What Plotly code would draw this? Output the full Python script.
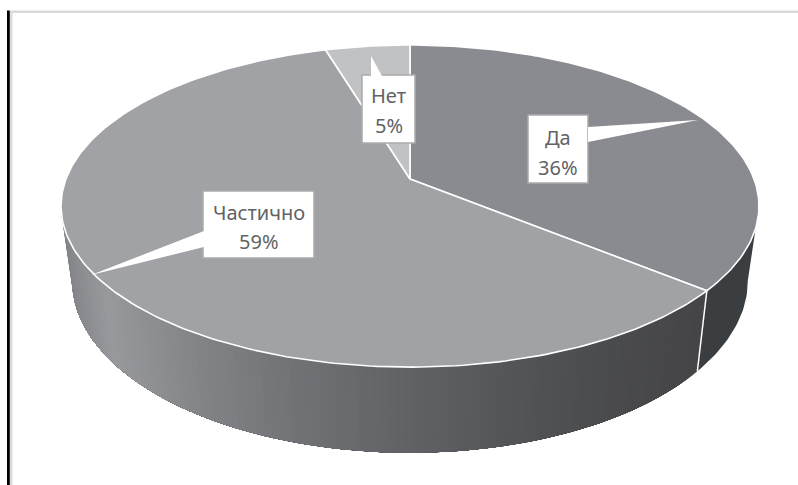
import math
import plotly.graph_objects as go

# Data (slice shares, clockwise from 12 o'clock)
categories = ["Да", "Частично", "Нет"]
shares = [36.0, 59.4, 4.6]
top_colors = ["#8a8b90", "#a0a2a6", "#c1c2c4"]

# Perspective projection of the disc
K = 0.168
TOP = dict(cx=410, cy=179, a=344, b=156.5)
BOTTOM = dict(cx=410, cy=252, a=333, b=167)


def project(turn, disc):
    X, Y = math.sin(turn), math.cos(turn)
    w = 1 + K * Y
    return disc["cx"] + disc["a"] * X / w, disc["cy"] - disc["b"] * Y / w


def arc(t0, t1, disc, step=math.radians(1)):
    n = max(2, int(abs(t1 - t0) / step) + 1)
    pts = [project(t0 + (t1 - t0) * i / n, disc) for i in range(n + 1)]
    return [p[0] for p in pts], [p[1] for p in pts]


STOPS = [(60, (0x82, 0x84, 0x88)), (105, (0x98, 0x99, 0x9d)), (200, (0x82, 0x83, 0x87)),
         (300, (0x70, 0x71, 0x75)), (400, (0x62, 0x63, 0x66)), (500, (0x55, 0x56, 0x59)),
         (600, (0x4b, 0x4c, 0x4e)), (700, (0x45, 0x45, 0x47))]


def side_color(x):
    for (x0, c0), (x1, c1) in zip(STOPS, STOPS[1:]):
        if x <= x1:
            f = max(0, (x - x0) / (x1 - x0))
            c = [round(a + (b - a) * f) for a, b in zip(c0, c1)]
            return "rgb(%d,%d,%d)" % tuple(c)
    return "rgb(69,69,71)"


fig = go.Figure()


def poly(xs, ys, fill, line=None, width=0):
    fig.add_trace(go.Scatter(
        x=xs, y=ys, mode="lines", fill="toself", fillcolor=fill,
        line=dict(color=line or fill, width=width if line else 0),
        hoverinfo="skip", showlegend=False))


# Slice boundaries as turning angles
edges = [0.0]
for s in shares:
    edges.append(edges[-1] + s / sum(shares) * 2 * math.pi)

right_tangent = math.acos(-K)
left_tangent = 2 * math.pi - right_tangent


def side_quad(t0, t1, color):
    x0, y0 = arc(t0, t1, TOP)
    x1, y1 = arc(t1, t0, BOTTOM)
    poly(x0 + x1 + x0[:1], y0 + y1 + y0[:1], color)


# Side wall: slice 1 (dark), then slice 2 with a horizontal gradient.
# Each strip runs on to the far end of the wall, so later strips paint over
# earlier ones and no antialiased seam shows between them.
side_quad(right_tangent, edges[1], "#3b3e41")
n_strips = 120
for i in range(n_strips):
    t0 = edges[1] + (left_tangent - edges[1]) * i / n_strips
    t1 = edges[1] + (left_tangent - edges[1]) * (i + 1) / n_strips
    mx = project((t0 + t1) / 2, TOP)[0]
    side_quad(t0, left_tangent, side_color(mx))

# Seam between the two visible side faces
sx0, sy0 = project(edges[1], TOP)
sx1, sy1 = project(edges[1], BOTTOM)
fig.add_trace(go.Scatter(x=[sx0, sx1], y=[sy0, sy1], mode="lines",
                         line=dict(color="white", width=1.5),
                         hoverinfo="skip", showlegend=False))

# Top face slices
for i, col in enumerate(top_colors):
    ax, ay = arc(edges[i], edges[i + 1], TOP)
    xs = [TOP["cx"]] + ax + [TOP["cx"]]
    ys = [TOP["cy"]] + ay + [TOP["cy"]]
    poly(xs, ys, col, "white", 1.6)

# Callouts: (box x0, y0, x1, y1), pointer polygon, text positions
callouts = [
    dict(box=(528, 115, 588, 183), ptr=[(588, 127), (698, 120), (588, 142)], y=(137, 167)),
    dict(box=(203, 191, 314, 258), ptr=[(204, 231), (91, 275), (204, 247)], y=(212, 241)),
    dict(box=(362, 75, 415, 143), ptr=[(371, 76), (371, 56), (382, 76)], y=(95, 125)),
]
for name, share, c in zip(categories, shares, callouts):
    x0, y0, x1, y1 = c["box"]
    poly([x0, x1, x1, x0, x0], [y0, y0, y1, y1, y0], "white", "#a9aaac", 1.5)
    poly([p[0] for p in c["ptr"]], [p[1] for p in c["ptr"]], "white")
    for text, ty in zip((name, "%d%%" % round(share)), c["y"]):
        fig.add_annotation(x=(x0 + x1) / 2, y=ty, text=text, showarrow=False,
                           font=dict(family="Noto Sans", size=20, color="#626365"),
                           xanchor="center", yanchor="middle")

fig.update_layout(
    width=798, height=485, margin=dict(l=0, r=0, t=0, b=0),
    paper_bgcolor="white", plot_bgcolor="white", showlegend=False,
    xaxis=dict(range=[0, 798], visible=False, fixedrange=True),
    yaxis=dict(range=[485, 0], visible=False, fixedrange=True),
    shapes=[
        dict(type="rect", x0=10, x1=798, y0=10.5, y1=13, fillcolor="#d9d9d9", line_width=0, layer="below"),
        dict(type="rect", x0=9.5, x1=12.5, y0=11, y1=485, fillcolor="#dcdcdc", line_width=0, layer="below"),
        dict(type="rect", x0=7, x1=9.8, y0=10.5, y1=485, fillcolor="#000000", line_width=0, layer="below"),
    ],
)
fig.write_html("out.html", config={"displayModeBar": False},
               post_script="document.body.style.margin='0';")
